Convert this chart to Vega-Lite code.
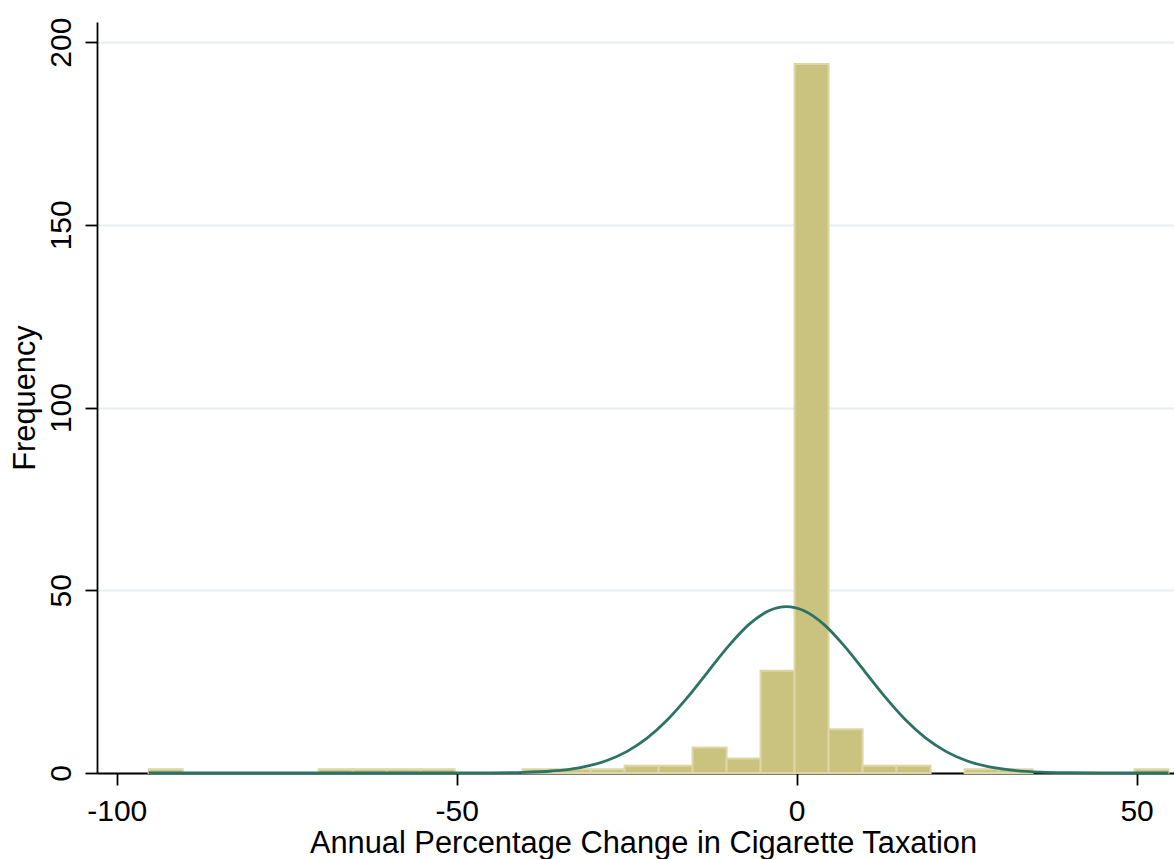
{
  "$schema": "https://vega.github.io/schema/vega-lite/v6.json",
  "autosize": "none",
  "width": 1077,
  "height": 751,
  "padding": {"left": 97, "top": 22, "right": 0, "bottom": 86},
  "background": "white",
  "config": {
    "view": {"stroke": null},
    "font": "Liberation Sans",
    "axis": {
      "labelFont": "Liberation Sans",
      "titleFont": "Liberation Sans",
      "labelColor": "black",
      "titleColor": "black",
      "labelFontSize": 30,
      "titleFontSize": 30.8,
      "titleFontWeight": "normal",
      "domainColor": "black",
      "domainWidth": 1.8,
      "tickColor": "black",
      "tickWidth": 1.8,
      "tickSize": 12,
      "gridColor": "#e6eef0",
      "gridWidth": 2
    }
  },
  "datasets": {
    "bins": [
      {"x0": -95.3, "x1": -90.3, "count": 1},
      {"x0": -70.3, "x1": -65.3, "count": 1},
      {"x0": -65.3, "x1": -60.3, "count": 1},
      {"x0": -60.3, "x1": -55.3, "count": 1},
      {"x0": -55.3, "x1": -50.3, "count": 1},
      {"x0": -40.3, "x1": -35.3, "count": 1},
      {"x0": -35.3, "x1": -30.3, "count": 1},
      {"x0": -30.3, "x1": -25.3, "count": 1},
      {"x0": -25.3, "x1": -20.3, "count": 2},
      {"x0": -20.3, "x1": -15.3, "count": 2},
      {"x0": -15.3, "x1": -10.3, "count": 7},
      {"x0": -10.3, "x1": -5.3, "count": 4},
      {"x0": -5.3, "x1": -0.3, "count": 28},
      {"x0": -0.3, "x1": 4.7, "count": 194},
      {"x0": 4.7, "x1": 9.7, "count": 12},
      {"x0": 9.7, "x1": 14.7, "count": 2},
      {"x0": 14.7, "x1": 19.7, "count": 2},
      {"x0": 24.7, "x1": 29.7, "count": 1},
      {"x0": 29.7, "x1": 34.7, "count": 1},
      {"x0": 49.7, "x1": 54.7, "count": 1}
    ],
    "curve": [
      {"x": -95.3, "y": 0},
      {"x": -60, "y": 0},
      {"x": -50, "y": 0.01},
      {"x": -45, "y": 0.04},
      {"x": -40, "y": 0.18},
      {"x": -36, "y": 0.55},
      {"x": -32, "y": 1.43},
      {"x": -28, "y": 3.35},
      {"x": -25, "y": 5.85},
      {"x": -22, "y": 9.55},
      {"x": -19, "y": 14.58},
      {"x": -16, "y": 20.84},
      {"x": -13, "y": 27.84},
      {"x": -10, "y": 34.78},
      {"x": -7, "y": 40.66},
      {"x": -4, "y": 44.45},
      {"x": -1.5, "y": 45.5},
      {"x": 1, "y": 44.45},
      {"x": 4, "y": 40.66},
      {"x": 7, "y": 34.78},
      {"x": 10, "y": 27.84},
      {"x": 13, "y": 20.84},
      {"x": 16, "y": 14.58},
      {"x": 19, "y": 9.55},
      {"x": 22, "y": 5.85},
      {"x": 25, "y": 3.35},
      {"x": 28, "y": 1.79},
      {"x": 32, "y": 0.7},
      {"x": 36, "y": 0.24},
      {"x": 40, "y": 0.08},
      {"x": 45, "y": 0.015},
      {"x": 54.7, "y": 0}
    ]
  },
  "layer": [
    {
      "data": {"name": "bins"},
      "mark": {"type": "bar", "fill": "#cac37f", "stroke": "#dcd7a5", "strokeWidth": 2},
      "encoding": {
        "x": {
          "field": "x0", "type": "quantitative",
          "scale": {"domain": [-102.9, 55.5], "nice": false, "zero": false},
          "axis": {
            "values": [-100, -50, 0, 50],
            "grid": false,
            "labelExpr": "'' + datum.value",
            "labelPadding": 11,
            "labelFlush": false,
            "title": "Annual Percentage Change in Cigarette Taxation",
            "titlePadding": 2,
            "titleX": 546,
            "titleAnchor": "start",
            "titleAlign": "center"
          }
        },
        "x2": {"field": "x1"},
        "y": {
          "field": "count", "type": "quantitative",
          "scale": {"domain": [0, 205.5], "nice": false},
          "axis": {
            "values": [0, 50, 100, 150, 200],
            "grid": true,
            "labelAngle": -90,
            "labelAlign": "center",
            "labelBaseline": "alphabetic",
            "labelPadding": 15,
            "labelFlush": false,
            "title": "Frequency",
            "titlePadding": 6
          }
        },
        "y2": {"datum": 0}
      }
    },
    {
      "data": {"name": "curve"},
      "mark": {"type": "line", "color": "#2b7365", "strokeWidth": 2.8, "interpolate": "monotone"},
      "encoding": {
        "x": {"field": "x", "type": "quantitative"},
        "y": {"field": "y", "type": "quantitative"}
      }
    }
  ]
}
